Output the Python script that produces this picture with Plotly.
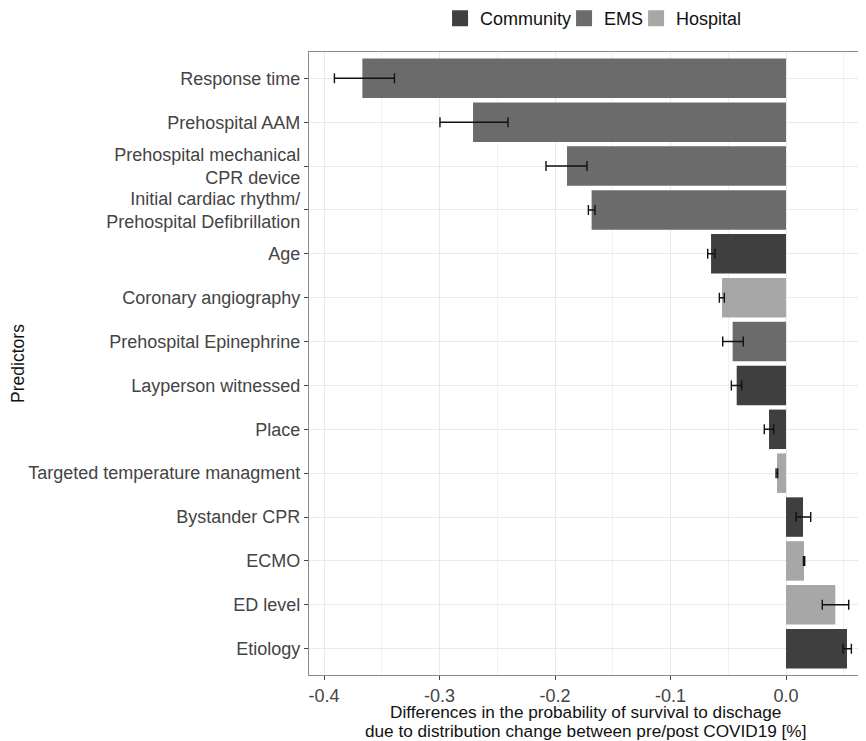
import plotly.graph_objects as go

# ---- data (top to bottom) ----
predictors = [
    "Response time",
    "Prehospital AAM",
    "Prehospital mechanical<br>CPR device",
    "Initial cardiac rhythm/<br>Prehospital Defibrillation",
    "Age",
    "Coronary angiography",
    "Prehospital Epinephrine",
    "Layperson witnessed",
    "Place",
    "Targeted temperature managment",
    "Bystander CPR",
    "ECMO",
    "ED level",
    "Etiology",
]
groups = ["EMS", "EMS", "EMS", "EMS", "Community", "Hospital", "EMS",
          "Community", "Community", "Hospital", "Community", "Hospital",
          "Hospital", "Community"]
values = [-0.3668, -0.2710, -0.1896, -0.1683, -0.0649, -0.0554, -0.0462,
          -0.0427, -0.0147, -0.0078, 0.0147, 0.0156, 0.0427, 0.0528]
lower = [-0.3910, -0.2996, -0.2078, -0.1711, -0.0678, -0.0577, -0.0548,
         -0.0473, -0.0188, -0.0086, 0.0087, 0.0151, 0.0314, 0.0494]
upper = [-0.3390, -0.2407, -0.1723, -0.1654, -0.0615, -0.0534, -0.0370,
         -0.0384, -0.0107, -0.0072, 0.0214, 0.0162, 0.0543, 0.0566]

group_order = ["Community", "EMS", "Hospital"]
group_colors = {"Community": "#3f3f3f", "EMS": "#6b6b6b", "Hospital": "#a7a7a7"}
legend_widths = {"Community": 79, "EMS": 27, "Hospital": 62}

x_tickvals = [-0.4, -0.3, -0.2, -0.1, 0.0]
x_ticktext = ["-0.4", "-0.3", "-0.2", "-0.1", "0.0"]

x_title_lines = ["Differences in the probability of survival to dischage",
                 "due to distribution change between pre/post COVID19 [%]"]

FONT = "Liberation Sans, Arial, sans-serif"

fig = go.Figure()
for g in group_order:
    idx = [i for i, gg in enumerate(groups) if gg == g]
    xs = [values[i] for i in idx]
    ys = [predictors[i] for i in idx]
    plus = [upper[i] - values[i] for i in idx]
    minus = [values[i] - lower[i] for i in idx]
    fig.add_trace(go.Bar(
        x=xs, y=ys, orientation="h", name=g, width=0.9,
        marker=dict(color=group_colors[g], line=dict(width=0)),
        error_x=dict(type="data", symmetric=False, array=plus, arrayminus=minus,
                     color="#111111", thickness=1.4, width=5),
        showlegend=False,
    ))
    # legend entry with larger square key
    fig.add_trace(go.Scatter(
        x=[None], y=[None], mode="markers", name=g,
        marker=dict(symbol="square", size=16, color=group_colors[g]),
        showlegend=True, legendwidth=legend_widths[g],
    ))

title_y = [-0.0586, -0.0899]
fig.update_layout(
    width=858, height=733,
    margin=dict(l=301, r=4, t=44, b=66, autoexpand=False),
    paper_bgcolor="white", plot_bgcolor="white",
    barmode="overlay",
    font=dict(family=FONT, size=18, color="#222222"),
    legend=dict(orientation="h", x=0.237, xanchor="left", y=1.024, yanchor="bottom",
                font=dict(size=18, color="#111111"), itemwidth=30,
                bgcolor="rgba(0,0,0,0)"),
    showlegend=True,
    annotations=[dict(
        text=line, xref="paper", yref="paper", x=0.5, y=yy,
        xanchor="center", yanchor="middle", showarrow=False, borderpad=0,
        font=dict(size=17.2, color="#111111"), align="center",
    ) for line, yy in zip(x_title_lines, title_y)],
)
fig.update_xaxes(
    range=[-0.413, 0.0658], tickvals=x_tickvals, ticktext=x_ticktext,
    showgrid=True, gridcolor="#e9e9e9", gridwidth=1.2,
    minor=dict(dtick=0.05, tick0=0, showgrid=True, gridcolor="#f1f1f1", gridwidth=0.8),
    showline=True, mirror=True, linecolor="#8a8a8a", linewidth=1.2,
    ticks="outside", ticklen=4, tickcolor="#444444",
    tickfont=dict(size=18, color="#444444"),
    zeroline=False,
    automargin=False,
)
fig.update_yaxes(
    type="category", categoryorder="array", categoryarray=predictors,
    range=[13.6, -0.6],
    showgrid=True, gridcolor="#e9e9e9", gridwidth=1.2,
    showline=True, mirror=True, linecolor="#8a8a8a", linewidth=1.2,
    ticks="outside", ticklen=4, tickcolor="#444444",
    tickfont=dict(size=18, color="#444444"),
    zeroline=False,
    title=dict(text="Predictors", font=dict(size=17.5, color="#111111"), standoff=2),
    automargin=False,
)

fig.write_html("out.html")
